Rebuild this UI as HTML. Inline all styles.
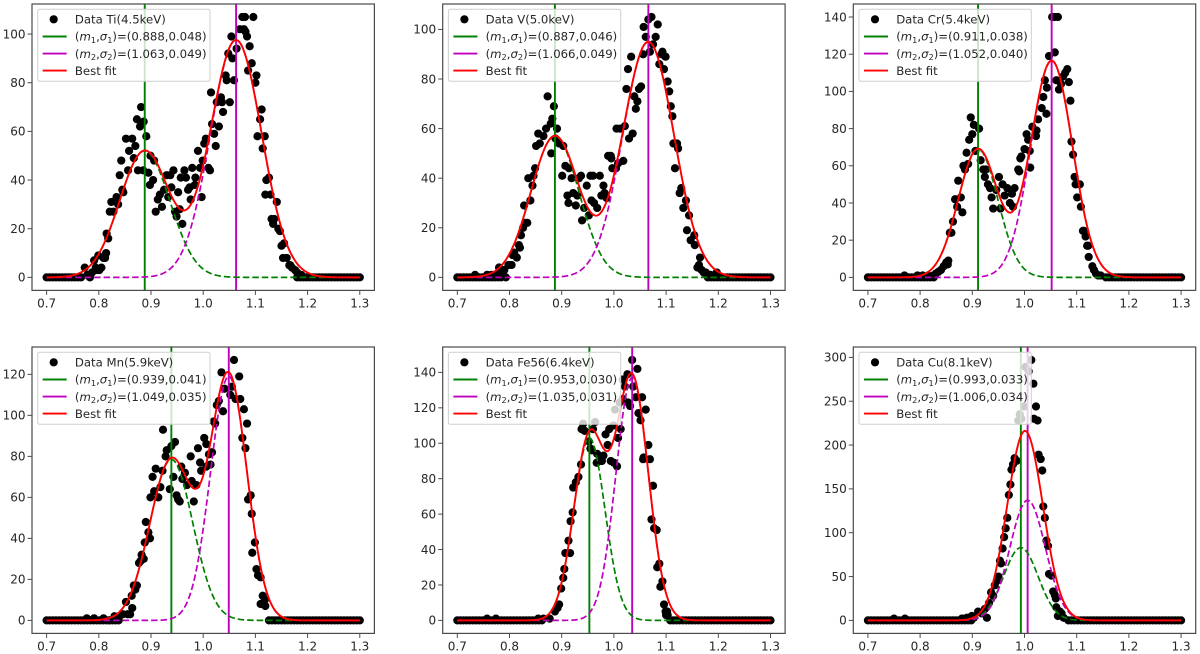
<!DOCTYPE html>
<html lang="en">
<head>
<meta charset="utf-8">
<title>Two-Gaussian fits of line profiles</title>
<style>
html,body{margin:0;padding:0;background:#fff;width:1200px;height:654px;overflow:hidden}
svg{display:block;font-family:"DejaVu Sans","Liberation Sans",sans-serif;filter:blur(0.35px)}
</style>
</head>
<body>
<svg id="figure" xmlns="http://www.w3.org/2000/svg" width="1200" height="654" viewBox="0 0 1200 654"></svg>
<script>
// ---- Data: [energy ratio, counts] ----
const tiPeak = [[.773,4],[.778,1],[.783,0],[.787,2],[.791,7],[.794,4],[.797,3],[.799,9],[.801,3],[.805,4],[.809,8],[.812,8],[.814,10],[.815,18],[.818,16],[.821,27],[.824,31],[.828,27],[.834,33],[.837,30],[.84,42],[.843,48],[.845,36],[.847,35],[.852,57],[.856,44],[.858,52],[.864,57],[.867,49],[.87,54],[.873,65],[.875,44],[.879,62],[.881,70],[.886,64],[.891,58],[.885,44],[.895,43],[.898,38],[.899,50],[.904,40],[.906,48],[.909,27],[.913,32],[.917,34],[.921,29],[.925,36],[.93,42],[.933,33],[.937,42],[.939,37],[.943,44],[.946,27],[.949,25],[.952,35],[.955,28],[.957,41],[.96,22],[.964,44],[.967,41],[.971,36],[.974,37],[.976,32],[.979,45],[.984,38],[.985,41],[.99,52],[.994,45],[.997,33],[.999,48],[1.002,55],[1.005,57],[1.01,45],[1.013,44],[1.015,76],[1.017,63],[1.021,59],[1.024,54],[1.026,72],[1.03,62],[1.034,74],[1.036,72],[1.038,68],[1.043,83],[1.045,81],[1.048,92],[1.051,72],[1.054,99],[1.056,90],[1.059,81],[1.064,94],[1.07,102],[1.075,107],[1.078,102],[1.08,107],[1.081,101],[1.084,99],[1.086,85],[1.089,95],[1.093,88],[1.096,107],[1.1,80],[1.102,83],[1.104,58],[1.109,65],[1.112,69],[1.114,53],[1.118,58],[1.119,34],[1.121,40],[1.126,41],[1.129,34],[1.131,24],[1.134,22],[1.136,24],[1.141,31],[1.144,20],[1.147,19],[1.15,13],[1.153,8],[1.155,14],[1.16,8],[1.165,5],[1.167,5],[1.17,4],[1.176,3],[1.18,2],[1.184,1],[1.188,1]];
const vPeak = [[.734,1],[.757,1],[.765,1],[.775,1],[.78,4],[.783,3],[.787,1],[.79,3],[.793,0],[.798,5],[.804,5],[.806,9],[.809,10],[.814,8],[.818,13],[.82,12],[.822,17],[.826,20],[.828,29],[.83,22],[.834,22],[.836,40],[.84,31],[.844,37],[.846,41],[.849,44],[.851,53],[.855,58],[.858,54],[.865,57],[.87,60],[.873,73],[.879,62],[.88,50],[.882,64],[.885,69],[.888,56],[.891,60],[.895,54],[.901,41],[.903,53],[.907,45],[.911,33],[.913,30],[.914,44],[.919,40],[.922,34],[.927,29],[.93,33],[.933,40],[.937,41],[.939,23],[.943,28],[.948,37],[.952,25],[.955,41],[.957,31],[.96,41],[.962,30],[.968,28],[.973,41],[.976,33],[.98,37],[.982,34],[.986,32],[.989,49],[.994,49],[.995,48],[.997,44],[1.004,44],[1.005,60],[1.008,46],[1.012,60],[1.018,47],[1.021,61],[1.024,76],[1.027,84],[1.029,56],[1.033,89],[1.036,58],[1.039,73],[1.042,68],[1.045,71],[1.048,76],[1.052,77],[1.056,90],[1.057,101],[1.061,97],[1.066,104],[1.069,91],[1.072,105],[1.075,94],[1.08,97],[1.084,102],[1.087,86],[1.091,90],[1.093,91],[1.096,84],[1.099,89],[1.103,79],[1.106,75],[1.109,69],[1.112,65],[1.114,54],[1.117,44],[1.121,54],[1.123,52],[1.126,34],[1.129,36],[1.133,28],[1.138,31],[1.14,19],[1.144,25],[1.147,15],[1.154,17],[1.155,13],[1.16,4],[1.163,5],[1.165,8],[1.168,3],[1.172,2],[1.176,2],[1.185,1],[1.197,2]];
const crPeak = [[.77,1],[.795,1],[.805,1],[.815,1],[.825,1],[.83,2],[.835,3],[.84,4],[.845,6],[.85,8],[.854,9],[.853,7],[.857,24],[.86,24],[.863,30],[.867,42],[.871,38],[.873,52],[.878,43],[.881,35],[.883,60],[.886,58],[.889,67],[.892,61],[.894,74],[.897,86],[.9,77],[.903,82],[.906,68],[.913,80],[.916,63],[.921,58],[.924,54],[.926,58],[.93,50],[.934,48],[.937,43],[.94,37],[.946,47],[.951,54],[.954,37],[.958,50],[.962,44],[.967,48],[.972,40],[.976,45],[.978,38],[.981,48],[.988,58],[.99,57],[.992,64],[.994,65],[1.0,69],[1.004,77],[1.007,74],[1.01,68],[1.011,59],[1.015,81],[1.022,76],[1.023,79],[1.026,85],[1.033,91],[1.036,97],[1.039,106],[1.042,88],[1.043,102],[1.047,119],[1.053,140],[1.058,140],[1.058,121],[1.061,106],[1.064,140],[1.066,101],[1.07,104],[1.074,108],[1.078,110],[1.082,112],[1.085,105],[1.088,95],[1.09,73],[1.093,66],[1.096,54],[1.098,50],[1.101,43],[1.106,50],[1.108,38],[1.112,25],[1.114,25],[1.117,22],[1.12,17],[1.122,17],[1.123,11],[1.13,6],[1.133,4],[1.137,2],[1.141,1],[1.146,1]];
const mnPeak = [[.777,1],[.791,1],[.809,1],[.82,0],[.83,2],[.838,1],[.846,3],[.852,9],[.855,3],[.86,3],[.864,6],[.863,12],[.867,17],[.87,15],[.873,17],[.877,28],[.88,29],[.882,32],[.886,30],[.888,38],[.89,48],[.895,43],[.898,40],[.899,60],[.903,70],[.906,63],[.909,74],[.914,60],[.918,65],[.922,73],[.923,93],[.928,80],[.93,83],[.936,64],[.939,85],[.943,70],[.946,87],[.949,61],[.952,59],[.955,58],[.958,75],[.96,69],[.965,72],[.969,66],[.976,80],[.978,68],[.982,58],[.987,66],[.99,84],[.994,77],[.996,73],[1.002,89],[1.006,86],[1.006,75],[1.011,81],[1.014,76],[1.017,82],[1.02,97],[1.023,96],[1.026,105],[1.03,107],[1.035,121],[1.038,102],[1.041,113],[1.052,110],[1.055,114],[1.059,127],[1.062,108],[1.069,119],[1.071,108],[1.075,89],[1.078,103],[1.081,84],[1.084,96],[1.086,59],[1.091,61],[1.093,52],[1.094,33],[1.099,38],[1.102,25],[1.105,22],[1.11,21],[1.11,8],[1.114,12],[1.118,10],[1.119,7]];
const fePeak = [[.757,1],[.774,1],[.855,1],[.865,1],[.877,1],[.887,5],[.892,7],[.895,9],[.899,18],[.903,24],[.905,29],[.907,38],[.913,45],[.916,38],[.917,56],[.921,61],[.922,75],[.927,78],[.932,81],[.937,88],[.938,108],[.941,111],[.944,107],[.952,101],[.955,97],[.958,96],[.96,108],[.964,112],[.967,89],[.968,94],[.973,90],[.977,90],[.98,93],[.984,105],[.988,99],[.991,108],[.994,90],[.999,110],[1.0,89],[1.002,119],[1.006,87],[1.008,103],[1.011,123],[1.013,108],[1.017,136],[1.017,125],[1.021,132],[1.026,139],[1.027,123],[1.031,121],[1.035,147],[1.037,132],[1.042,126],[1.045,142],[1.047,117],[1.051,113],[1.054,126],[1.056,91],[1.057,92],[1.061,119],[1.066,99],[1.069,91],[1.072,57],[1.075,76],[1.077,52],[1.082,51],[1.083,30],[1.087,32],[1.089,19],[1.093,22],[1.096,9],[1.099,5],[1.102,5],[1.1,3],[1.103,3]];
const cuPeak = [[.75,2],[.771,2],[.88,2],[.885,2],[.89,3],[.896,3],[.899,5],[.903,3],[.911,10],[.918,8],[.924,13],[.928,3],[.932,20],[.936,32],[.94,28],[.943,40],[.947,45],[.95,50],[.953,68],[.955,65],[.958,82],[.961,95],[.964,105],[.967,117],[.97,143],[.973,155],[.975,172],[.978,178],[.981,185],[.985,182],[.988,228],[.991,235],[.994,230],[.999,244],[1.002,289],[1.008,284],[1.013,297],[1.017,270],[1.018,230],[1.022,244],[1.025,228],[1.027,189],[1.031,184],[1.034,171],[1.036,130],[1.039,117],[1.042,91],[1.045,85],[1.047,53],[1.052,51],[1.055,33],[1.058,29],[1.06,25],[1.061,15],[1.064,5],[1.068,10],[1.071,8],[1.075,3]];

// Shared empty-bin positions; each panel shows the zero counts outside its peak range.
const baselineBins = [.700,.706,.712,.718,.724,.730,.736,.742,.748,.754,.760,.766,.772,.778,.784,.790,.796,.802,.808,.814,.820,.826,.832,.838,.844,.850,.856,.862,.868,.874,.880,.886,.892,.898,1.078,1.084,1.090,1.096,1.102,1.108,1.114,1.120,1.126,1.132,1.138,1.144,1.150,1.156,1.162,1.168,1.174,1.180,1.186,1.192,1.198,1.204,1.210,1.216,1.222,1.228,1.234,1.240,1.246,1.252,1.258,1.264,1.270,1.276,1.282,1.288,1.294,1.300];

// ---- Per-panel series ----
const elements = ["Ti(4.5keV)","V(5.0keV)","Cr(5.4keV)","Mn(5.9keV)","Fe56(6.4keV)","Cu(8.1keV)"];
const panelSlugs = ["ti","v","cr","mn","fe56","cu"];
const peakSeries = [tiPeak,vPeak,crPeak,mnPeak,fePeak,cuPeak];
const peakStart = [.772,.790,.830,.840,.865,.900];
const peakEnd = [1.178,1.175,1.150,1.120,1.105,1.078];
const mean1 = [.888,.887,.911,.939,.953,.993];
const sigma1 = [.048,.046,.038,.041,.030,.033];
const mean2 = [1.063,1.066,1.052,1.049,1.035,1.006];
const sigma2 = [.049,.049,.040,.035,.031,.034];
const amp1 = [52,57,69,78.5,103,83];
const amp2 = [97.5,95,116.5,119,137,137];
const countMax = [107,105,140,127,147,297];
const yTickLabels = [
  [0,20,40,60,80,100],
  [0,20,40,60,80,100],
  [0,20,40,60,80,100,120,140],
  [0,20,40,60,80,100,120],
  [0,20,40,60,80,100,120,140],
  [0,50,100,150,200,250,300]
];
const xTickLabels = ["0.7","0.8","0.9","1.0","1.1","1.2","1.3"];
const xDomain = [0.672,1.328];

// ---- Layout ----
const frameLeft = [32,442.7,853.3,32,442.7,853.3];
const frameTop = [4,4,4,347,347,347];
const frameW = 342.4, frameH = 286.4;
const legendW = 172.3, legendH = 72;

const NS = "http://www.w3.org/2000/svg";
const svg = document.getElementById("figure");
function mk(tag, attrs, parent, txt){
  const e = document.createElementNS(NS, tag);
  for (const k in attrs) e.setAttribute(k, attrs[k]);
  if (txt !== undefined) e.textContent = txt;
  parent.appendChild(e);
  return e;
}
const TEXT = "#262626", SPINE = "#4a4a4a", GREEN = "#008000", MAGENTA = "#bf00bf", RED = "#ff0000";
const DOT_R = 4.1, LEGEND_FONT = 11.7, TICK_FONT = 12;

function gauss(x, a, m, s){ const d = (x - m) / s; return a * Math.exp(-0.5 * d * d); }

elements.forEach((label, p) => {
  const L = frameLeft[p], T = frameTop[p];
  const g = mk("g", {}, svg);
  
  

  const xs = v => L + (v - xDomain[0]) / (xDomain[1] - xDomain[0]) * frameW;
  const yMin = -0.05 * countMax[p], yMax = 1.05 * countMax[p];
  const ys = v => T + frameH - (v - yMin) / (yMax - yMin) * frameH;

  const clipId = "clip-" + p;
  const defs = mk("defs", {}, g);
  const cp = mk("clipPath", {id: clipId}, defs);
  mk("rect", {x: L, y: T, width: frameW, height: frameH}, cp);

  const bg = mk("rect", {x: L, y: T, width: frameW, height: frameH, fill: "#fff"}, g);
  
  

  const plot = mk("g", {"clip-path": "url(#" + clipId + ")"}, g);
  
  

  // zero-count bins outside the peak
  baselineBins.filter(b => b < peakStart[p] || b > peakEnd[p]).forEach(b => {
    const c = mk("circle", {cx: xs(b), cy: ys(0), r: DOT_R, fill: "#000"}, plot);
    
    
  });
  // measured points
  peakSeries[p].forEach(pt => {
    const c = mk("circle", {cx: xs(pt[0]), cy: ys(pt[1]), r: DOT_R, fill: "#000"}, plot);
    
    
  });

  // peak-centre markers
  const v1 = mk("line", {x1: xs(mean1[p]), x2: xs(mean1[p]), y1: T, y2: T + frameH, stroke: GREEN, "stroke-width": 1.9}, plot);
  
  
  const v2 = mk("line", {x1: xs(mean2[p]), x2: xs(mean2[p]), y1: T, y2: T + frameH, stroke: MAGENTA, "stroke-width": 1.9}, plot);
  
  

  // fit components: evaluated from the fitted model parameters above
  let d1 = "", d2 = "", d3 = "";
  for (let i = 0; i <= 300; i++) {
    const x = 0.7 + i * 0.002;
    const a = gauss(x, amp1[p], mean1[p], sigma1[p]);
    const b = gauss(x, amp2[p], mean2[p], sigma2[p]);
    const c = i ? "L" : "M";
    d1 += c + xs(x).toFixed(2) + " " + ys(a).toFixed(2);
    d2 += c + xs(x).toFixed(2) + " " + ys(b).toFixed(2);
    d3 += c + xs(x).toFixed(2) + " " + ys(a + b).toFixed(2);
  }
  const c1 = mk("path", {d: d1, fill: "none", stroke: GREEN, "stroke-width": 1.7, "stroke-dasharray": "6.5 3"}, plot);
  
  
  const c2 = mk("path", {d: d2, fill: "none", stroke: MAGENTA, "stroke-width": 1.7, "stroke-dasharray": "6.5 3"}, plot);
  
  
  const c3 = mk("path", {d: d3, fill: "none", stroke: RED, "stroke-width": 1.9}, plot);
  
  

  // spines
  const frame = mk("rect", {x: L, y: T, width: frameW, height: frameH, fill: "none", stroke: SPINE, "stroke-width": 1.2}, g);
  
  

  // x axis
  xTickLabels.forEach(t => {
    const x = xs(parseFloat(t));
    const tk = mk("line", {x1: x, x2: x, y1: T + frameH, y2: T + frameH + 4.5, stroke: SPINE, "stroke-width": 1}, g);
    
    
    const tl = mk("text", {x: x, y: T + frameH + 17, "text-anchor": "middle", "font-size": TICK_FONT, fill: TEXT}, g, t);
    
    
  });
  // y axis
  yTickLabels[p].forEach(t => {
    const y = ys(t);
    const tk = mk("line", {x1: L - 4.5, x2: L, y1: y, y2: y, stroke: SPINE, "stroke-width": 1}, g);
    
    
    const tl = mk("text", {x: L - 6.5, y: y + 4.3, "text-anchor": "end", "font-size": TICK_FONT, fill: TEXT}, g, String(t));
    
    
  });

  // legend
  const lx = L + 5.7, ly = T + 5.3;
  const lg = mk("g", {}, g);
  
  
  const box = mk("rect", {x: lx, y: ly, width: legendW, height: legendH, rx: 2, ry: 2, fill: "#fff", "fill-opacity": .8, stroke: "#cfcfcf", "stroke-width": 1}, lg);
  
  

  const rowY = [10, 27.2, 44.3, 61.3].map(v => ly + v);
  const tx = lx + 37.2;
  const h0 = lx + 5, h1 = lx + 29;

  const dot = mk("circle", {cx: lx + 16, cy: rowY[0], r: DOT_R, fill: "#000"}, lg);
  
  
  const t0 = mk("text", {x: tx, y: rowY[0] + 4.2, "font-size": LEGEND_FONT, fill: TEXT}, lg, "Data " + label);
  
  

  [[1, GREEN, mean1[p], sigma1[p]], [2, MAGENTA, mean2[p], sigma2[p]]].forEach(r => {
    const y = rowY[r[0]];
    const h = mk("line", {x1: h0, x2: h1, y1: y, y2: y, stroke: r[1], "stroke-width": 1.9}, lg);
    
    
    const t = mk("text", {x: tx, y: y + 4.2, "font-size": LEGEND_FONT, fill: TEXT}, lg);
    
    
    mk("tspan", {}, t, "(");
    mk("tspan", {"font-style": "italic"}, t, "m");
    mk("tspan", {dy: 2.2, "font-size": 8.2}, t, String(r[0]));
    mk("tspan", {dy: -2.2}, t, ",");
    mk("tspan", {"font-style": "italic"}, t, "σ");
    mk("tspan", {dy: 2.2, "font-size": 8.2}, t, String(r[0]));
    mk("tspan", {dy: -2.2}, t, ")=(" + r[2].toFixed(3) + "," + r[3].toFixed(3) + ")");
  });

  const h3 = mk("line", {x1: h0, x2: h1, y1: rowY[3], y2: rowY[3], stroke: RED, "stroke-width": 1.9}, lg);
  
  
  const t3 = mk("text", {x: tx, y: rowY[3] + 4.2, "font-size": LEGEND_FONT, fill: TEXT}, lg, "Best fit");
  
  
});
</script>
</body>
</html>
